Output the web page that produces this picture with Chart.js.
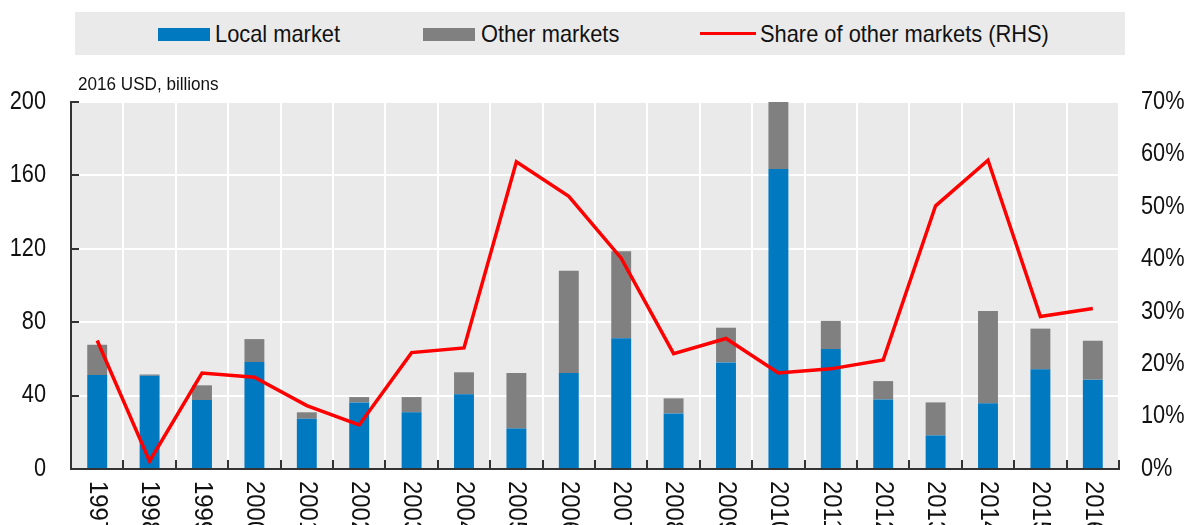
<!DOCTYPE html>
<html>
<head>
    <script src="https://cdn.jsdelivr.net/npm/chart.js@4.4.0/dist/chart.umd.min.js"></script>
    <title>Local and other markets</title>
    <style>
        body { margin: 0; background: #fff; font-family: "Liberation Sans", Arial, sans-serif; }
        #wrap { position: relative; width: 1187px; height: 525px; overflow: hidden; }
        #legendBox { position: absolute; left: 75px; top: 12px; width: 1050px; height: 43px; background: #eaeaea; }
        .sw { position: absolute; }
        .txt { position: absolute; top: 12px; height: 43px; line-height: 43px; font-size: 24px; color: #111;
               white-space: nowrap; transform: scaleX(0.91); transform-origin: 0 50%; }
    </style>
</head>
<body>
<div id="wrap">
    <canvas id="myChart" width="1187" height="525"></canvas>
    <div id="legendBox"></div>
    <div class="sw" style="left:158px;top:28px;width:52px;height:13px;background:#0179c0"></div>
    <div class="txt" style="left:215px">Local market</div>
    <div class="sw" style="left:423px;top:28px;width:52px;height:13px;background:#808080"></div>
    <div class="txt" style="left:481px">Other markets</div>
    <div class="sw" style="left:700px;top:32px;width:56px;height:3px;background:#ff0000"></div>
    <div class="txt" style="left:760px">Share of other markets (RHS)</div>
</div>

<script>
    var years = ['1997','1998','1999','2000','2001','2002','2003','2004','2005','2006',
                 '2007','2008','2009','2010','2011','2012','2013','2014','2015','2016'];
    // billions of 2016 USD
    var localMarket = [51.2, 50.8, 37.6, 58.3, 27.4, 36.3, 30.9, 40.7, 22.1, 52.3,
                       71.2, 30.3, 58.1, 163.5, 65.4, 37.9, 18.3, 35.8, 54.3, 48.7];
    var otherMarkets = [16.5, 0.7, 8.0, 12.5, 3.5, 2.9, 8.3, 12.0, 30.2, 55.7,
                        47.4, 8.2, 18.9, 36.5, 15.3, 10.0, 18.0, 50.3, 22.2, 21.2];
    // percent
    var shareOther = [24.5, 1.5, 18.3, 17.5, 12.1, 8.4, 22.2, 23.1, 58.6, 52.0,
                      40.2, 22.0, 24.9, 18.3, 19.1, 20.8, 50.2, 58.9, 29.1, 30.6];
    var leftTicks = [0, 40, 80, 120, 160, 200];
    var rightTicks = [0, 10, 20, 30, 40, 50, 60, 70];

    var fontFamily = '"Liberation Sans", Arial, sans-serif';

    // draw condensed text (narrow font look)
    function narrowText(ctx, txt, x, y, align, sx) {
        ctx.save();
        ctx.translate(x, y);
        ctx.scale(sx, 1);
        ctx.textAlign = align;
        ctx.fillText(txt, 0, 0);
        ctx.restore();
    }

    var bgPlugin = {
        id: 'bg',
        beforeDraw: function(chart) {
            var ctx = chart.ctx, a = chart.chartArea;
            ctx.save();
            ctx.fillStyle = '#eaeaea';
            ctx.fillRect(a.left, a.top, a.right - a.left, a.bottom - a.top);
            ctx.restore();
        },
        afterDraw: function(chart) {
            var ctx = chart.ctx, a = chart.chartArea;
            var x = chart.scales.x, y = chart.scales.y, y1 = chart.scales.y1;
            ctx.save();
            // inward tick marks
            ctx.strokeStyle = '#333';
            ctx.lineWidth = 2;
            ctx.beginPath();
            leftTicks.forEach(function(v) {
                var py = Math.round(y.getPixelForValue(v));
                ctx.moveTo(a.left, py);
                ctx.lineTo(a.left + 8, py);
            });
            for (var i = 0; i <= years.length; i++) {
                var px = Math.round(a.left + (a.right - a.left) * i / years.length);
                ctx.moveTo(px, a.bottom);
                ctx.lineTo(px, a.bottom - 9);
            }
            ctx.stroke();

            ctx.fillStyle = '#111';
            ctx.textBaseline = 'middle';
            // left tick labels
            ctx.font = '25px ' + fontFamily;
            leftTicks.forEach(function(v) {
                narrowText(ctx, String(v), 46, y.getPixelForValue(v), 'right', 0.87);
            });
            // right tick labels
            rightTicks.forEach(function(v) {
                narrowText(ctx, v + '%', 1141, y1.getPixelForValue(v), 'left', 0.87);
            });
            // unit label
            ctx.textBaseline = 'alphabetic';
            ctx.font = '19px ' + fontFamily;
            narrowText(ctx, '2016 USD, billions', 78, 90, 'left', 0.9);
            // rotated year labels, reading top to bottom
            ctx.font = '26px ' + fontFamily;
            ctx.textBaseline = 'middle';
            for (var j = 0; j < years.length; j++) {
                ctx.save();
                ctx.translate(x.getPixelForValue(j), a.bottom + 12);
                ctx.rotate(Math.PI / 2);
                ctx.scale(0.92, 1);
                ctx.textAlign = 'left';
                ctx.fillText(years[j], 0, 0);
                ctx.restore();
            }
            ctx.restore();
        }
    };

    var ctx = document.getElementById('myChart').getContext('2d');
    var myChart = new Chart(ctx, {
        type: 'bar',
        data: {
            labels: years,
            datasets: [
                {
                    type: 'line',
                    label: 'Share of other markets (RHS)',
                    data: shareOther,
                    yAxisID: 'y1',
                    borderColor: '#ff0000',
                    borderWidth: 3.5,
                    pointRadius: 0,
                    tension: 0,
                    order: 0
                },
                {
                    label: 'Local market',
                    data: localMarket,
                    backgroundColor: '#0179c0',
                    stack: 's',
                    order: 1
                },
                {
                    label: 'Other markets',
                    data: otherMarkets,
                    backgroundColor: '#808080',
                    stack: 's',
                    order: 1
                }
            ]
        },
        options: {
            responsive: false,
            animation: false,
            layout: { padding: { top: 102, left: 0, right: 0, bottom: 0 } },
            datasets: { bar: { categoryPercentage: 1, barPercentage: 0.38 } },
            plugins: { legend: { display: false }, tooltip: { enabled: false } },
            scales: {
                x: {
                    stacked: true,
                    grid: { offset: true, color: '#ffffff', lineWidth: 2, drawTicks: false },
                    border: { color: '#333', width: 2 },
                    ticks: { display: false },
                    afterFit: function(s) { s.height = 56; }
                },
                y: {
                    stacked: true,
                    min: 0,
                    max: 200,
                    afterBuildTicks: function(s) { s.ticks = leftTicks.map(function(v) { return { value: v }; }); },
                    grid: { color: '#ffffff', lineWidth: 2, drawTicks: false },
                    border: { color: '#333', width: 2 },
                    ticks: { display: false },
                    afterFit: function(s) { s.width = 71; }
                },
                y1: {
                    position: 'right',
                    min: 0,
                    max: 70,
                    grid: { display: false, drawTicks: false },
                    border: { display: false },
                    ticks: { display: false },
                    afterFit: function(s) { s.width = 68; }
                }
            }
        },
        plugins: [bgPlugin]
    });
</script>
</body>
</html>
